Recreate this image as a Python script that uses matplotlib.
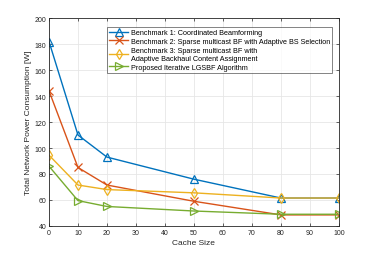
import matplotlib.pyplot as plt

cache_size = [0, 10, 20, 50, 80, 100]
bench1 = [182, 110, 93, 76, 61.5, 61.5]
bench2 = [144, 85, 71.5, 59, 48.5, 48.5]
bench3 = [94.5, 71.5, 68, 65.5, 61.5, 61.5]
proposed = [86, 59.5, 55, 51.5, 49, 49]

labels = ['Benchmark 1: Coordinated Beamforming',
          'Benchmark 2: Sparse multicast BF with Adaptive BS Selection',
          'Benchmark 3: Sparse multicast BF with\nAdaptive Backhaul Content Assignment',
          'Proposed Iterative LGSBF Algorithm']

plt.rcParams['font.family'] = ['Liberation Sans', 'DejaVu Sans']

fig = plt.figure(figsize=(3.74, 2.55), dpi=100)
ax = fig.add_axes([0.131, 0.110, 0.775, 0.815])

series = [
    (bench1, '#0072BD', '^'),
    (bench2, '#D95319', 'x'),
    (bench3, '#EDB120', 'd'),
    (proposed, '#77AC30', '>'),
]
for (vals, col, mk), lab in zip(series, labels):
    ax.plot(cache_size, vals, color=col, marker=mk, markersize=5.5,
            markerfacecolor='none', markeredgewidth=0.9, linewidth=1.0, label=lab)

ax.set_xlim(0, 100)
ax.set_ylim(40, 200)
ax.set_xticks(range(0, 101, 10))
ax.set_yticks(range(40, 201, 20))
ax.grid(True, color='#e6e6e6', linewidth=0.6)
ax.set_axisbelow(True)
ax.tick_params(direction='in', length=2.5, width=0.5, labelsize=5,
               top=True, right=True, colors='#262626', pad=2)
for s in ax.spines.values():
    s.set_linewidth(0.6)
    s.set_color('#262626')

ax.set_xlabel('Cache Size', fontsize=6, color='#262626', labelpad=2)
ax.set_ylabel('Total Network Power Consumption [W]', fontsize=6, color='#262626', labelpad=2)

leg = ax.legend(loc='upper right', bbox_to_anchor=(0.99, 0.975), fontsize=5.2,
                frameon=True, fancybox=False, edgecolor='#262626',
                borderpad=0.3, labelspacing=0.25, handlelength=2.6, handletextpad=0.4)
leg.get_frame().set_linewidth(0.5)

fig.savefig('out.png', dpi=100)
